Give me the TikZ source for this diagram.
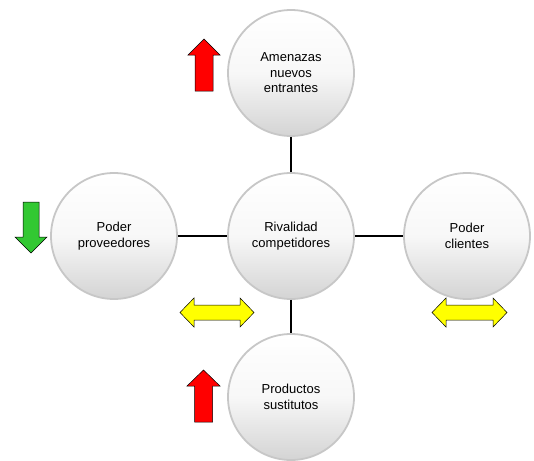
\documentclass[tikz,border=0pt]{standalone}
\usepackage{fontspec}
\setmainfont{Liberation Sans}
\usetikzlibrary{shadings}
\definecolor{ared}{RGB}{255,0,0}
\definecolor{agreen}{RGB}{50,200,50}
\definecolor{ayellow}{RGB}{255,255,0}
\begin{document}
\begin{tikzpicture}[x=1pt,y=-1pt,
  force/.style={circle, minimum size=126pt, inner sep=0pt, align=center,
    top color=white, bottom color=black!17, middle color=black!3,
    draw=black!22, line width=1.8pt,
    font=\fontsize{13}{15.5}\selectfont},
  link/.style={line width=2.8pt, black},
  arr/.style={draw=black, line width=0.5pt, line join=miter}]
\useasboundingbox (0,0) rectangle (534,460);
\node[force] (top) at (291,73) {Amenazas\\nuevos\\entrantes};
\node[force] (mid) at (291,236) {Rivalidad\\competidores};
\node[force] (left) at (114,236) {Poder\\proveedores};
\node[force] (right) at (467,236) {Poder\\clientes};
\node[force] (bot) at (291,397) {Productos\\sustitutos};
\draw[link] (top) -- (mid);
\draw[link] (mid) -- (bot);
\draw[link] (left) -- (mid);
\draw[link] (mid) -- (right);
% red up arrow (top)
\filldraw[arr, fill=ared] (204,39) -- (220,55) -- (213,55) -- (213,91) -- (195,91) -- (195,55) -- (188,55) -- cycle;
% red up arrow (bottom)
\filldraw[arr, fill=ared] (203.5,370) -- (220,386) -- (212.5,386) -- (212.5,422) -- (194.5,422) -- (194.5,386) -- (187,386) -- cycle;
% green down arrow
\filldraw[arr, fill=agreen] (31,253) -- (47,237) -- (39,237) -- (39,202) -- (23,202) -- (23,237) -- (15,237) -- cycle;
% yellow double arrows
\filldraw[arr, fill=ayellow] (180,312.5) -- (194,298) -- (194,305) -- (240,305) -- (240,298) -- (254,312.5) -- (240,327) -- (240,320) -- (194,320) -- (194,327) -- cycle;
\filldraw[arr, fill=ayellow] (432,312.5) -- (446,298) -- (446,305) -- (493,305) -- (493,298) -- (507,312.5) -- (493,327) -- (493,320) -- (446,320) -- (446,327) -- cycle;
\end{tikzpicture}
\end{document}
